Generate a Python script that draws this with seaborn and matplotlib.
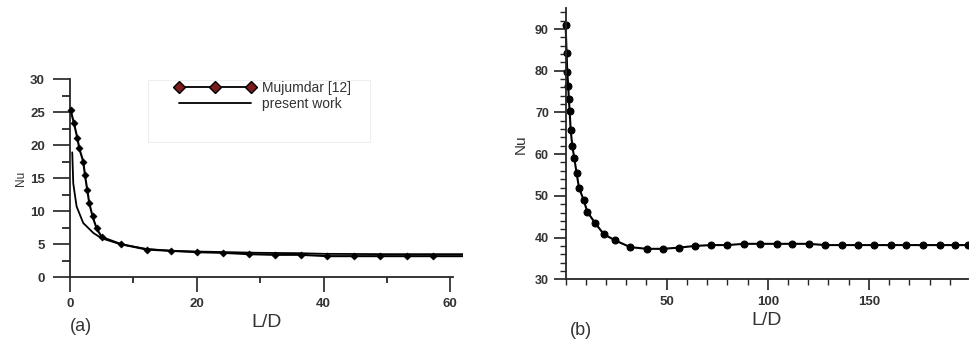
import numpy as np
import pandas as pd
import matplotlib
matplotlib.use("Agg")
import matplotlib.pyplot as plt
import seaborn as sns
from matplotlib.lines import Line2D
from matplotlib.patches import Rectangle
from matplotlib.ticker import MultipleLocator

sns.set_style("ticks")
plt.rcParams['font.family'] = ['Liberation Sans', 'DejaVu Sans']

# ---- panel (a) data ----
muj_x = [0.1, 0.63, 1.16, 1.47, 2.1, 2.36, 2.73, 3.05, 3.57, 4.2, 5.0, 8.1, 12.1,
         16.0, 20.1, 24.2, 28.3, 32.3, 36.4, 40.6, 44.8, 48.9, 53.1, 57.2, 62.0]
muj_y = [25.3, 23.3, 21.1, 19.5, 17.5, 15.5, 13.2, 11.2, 9.2, 7.4, 6.1, 5.0, 4.2,
         4.0, 3.8, 3.7, 3.5, 3.4, 3.4, 3.2, 3.2, 3.2, 3.2, 3.2, 3.2]
pres_x = [0.36, 0.52, 1.05, 2.1, 3.7, 5.0, 8.0, 12.0, 16.0, 20.0, 30.0, 36.0, 40.0, 50.0, 62.0]
pres_y = [18.9, 14.2, 10.7, 8.2, 6.7, 5.9, 5.0, 4.3, 4.0, 3.9, 3.7, 3.65, 3.55, 3.5, 3.5]
legend_labels = ['Mujumdar [12]', 'present work']

# ---- panel (b) data ----
b_x = [0.0, 0.5, 0.8, 1.3, 1.6, 2.0, 2.5, 3.3, 4.3, 5.4, 6.6, 9.0, 10.7, 14.4, 18.9,
       24.6, 32.0, 40.2, 48.1, 56.3, 64.1, 72.1, 80.0, 88.2, 96.1, 104.3, 112.0,
       120.2, 128.4, 136.6, 144.4, 152.6, 160.8, 168.5, 176.7, 184.9, 192.8, 199.0]
b_y = [91.0, 84.2, 79.8, 76.3, 73.2, 70.3, 65.8, 62.0, 59.0, 55.6, 52.0, 48.9, 46.2,
       43.6, 40.8, 39.3, 37.7, 37.3, 37.3, 37.6, 38.0, 38.2, 38.2, 38.5, 38.5, 38.5,
       38.5, 38.5, 38.2, 38.2, 38.2, 38.2, 38.2, 38.2, 38.2, 38.2, 38.2, 38.2]

fig = plt.figure(figsize=(9.69, 3.41), dpi=100)
axa = fig.add_axes([0.0722, 0.1868, 0.4056, 0.5815])
axb = fig.add_axes([0.5837, 0.181, 0.4153, 0.795])

tick_col = '#333333'

# panel (a)
dfm = pd.DataFrame({'x': muj_x[:-1], 'y': muj_y[:-1]})
sns.lineplot(x=muj_x, y=muj_y, ax=axa, color='black', lw=1.5, estimator=None, sort=False)
sns.scatterplot(data=dfm, x='x', y='y', ax=axa, color='black', marker='D', s=14,
                edgecolor='black', clip_on=False, zorder=4)
sns.lineplot(x=pres_x, y=pres_y, ax=axa, color='black', lw=1.3, estimator=None, sort=False)
axa.set_xlim(0, 62)
axa.set_ylim(0, 30)
for s in ['top', 'right']:
    axa.spines[s].set_visible(False)
axa.spines['bottom'].set_bounds(0, 60.4)
axa.spines['left'].set_linewidth(1.3)
axa.spines['bottom'].set_linewidth(1.3)
axa.xaxis.set_major_locator(MultipleLocator(20))
axa.xaxis.set_minor_locator(MultipleLocator(10))
axa.yaxis.set_major_locator(MultipleLocator(5))
axa.yaxis.set_minor_locator(MultipleLocator(2.5))
axa.tick_params(axis='y', which='major', length=12, width=1.3, pad=6, labelsize=9.5, colors=tick_col)
axa.tick_params(axis='y', which='minor', length=6, width=1.3)
axa.tick_params(axis='x', which='major', length=11, width=1.3, pad=4, labelsize=9.5, colors=tick_col)
axa.tick_params(axis='x', which='minor', length=4, width=1.3)
for lab in axa.get_xticklabels() + axa.get_yticklabels():
    lab.set_fontweight('bold')
axa.set_xlabel('L/D', fontsize=14, color=tick_col, labelpad=3)
axa.set_ylabel('Nu', fontsize=8.5, color=tick_col, labelpad=2)
fig.text(0.084, 0.042, '(a)', fontsize=13, color=tick_col, ha='center', va='center')

# faint legend box
fig.patches.append(Rectangle((0.1527, 0.5836), 0.229, 0.182, transform=fig.transFigure,
                             facecolor='none', edgecolor='#eeeeee', lw=0.8, zorder=0))
handles = [Line2D([0], [0], color='black', lw=1.3, marker='D', markersize=6,
                  markerfacecolor='#7a1a1a', markeredgecolor='black'),
           Line2D([0], [0], color='black', lw=1.3)]
leg = axa.legend(handles, legend_labels, loc='upper left',
                 bbox_to_anchor=(0.267, 0.99), numpoints=3, handlelength=5.8,
                 fontsize=10, frameon=False, borderpad=0, borderaxespad=0,
                 labelspacing=0.12, handletextpad=0.5)
for t in leg.get_texts():
    t.set_color(tick_col)

# panel (b)
sns.lineplot(x=b_x, y=b_y, ax=axb, color='black', lw=1.5, marker='o', markersize=5,
             markeredgecolor='black', estimator=None, sort=False, clip_on=False)
axb.set_xlim(0, 199)
axb.set_ylim(30, 95)
for s in ['top', 'right']:
    axb.spines[s].set_visible(False)
axb.spines['left'].set_linewidth(1.3)
axb.spines['bottom'].set_linewidth(1.3)
axb.xaxis.set_major_locator(MultipleLocator(50))
axb.xaxis.set_minor_locator(MultipleLocator(10))
axb.yaxis.set_major_locator(MultipleLocator(10))
axb.yaxis.set_minor_locator(MultipleLocator(2))
axb.set_xticks([50, 100, 150])
axb.tick_params(axis='y', which='major', length=9, width=1.3, pad=3, labelsize=9, colors=tick_col)
axb.tick_params(axis='y', which='minor', length=4, width=1.0)
axb.tick_params(axis='x', which='major', length=8, width=1.3, pad=4, labelsize=9.5, colors=tick_col)
axb.tick_params(axis='x', which='minor', length=4, width=1.0)
for lab in axb.get_xticklabels() + axb.get_yticklabels():
    lab.set_fontweight('bold')
axb.set_xlabel('L/D', fontsize=14, color=tick_col, labelpad=3)
axb.set_ylabel('Nu', fontsize=11, color=tick_col, labelpad=5)
fig.text(0.6, 0.032, '(b)', fontsize=13, color=tick_col, ha='center', va='center')

fig.savefig('out.png', dpi=100)
